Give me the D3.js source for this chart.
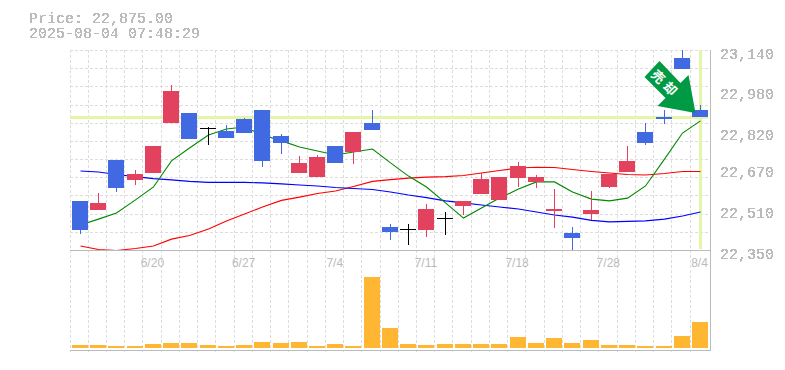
<!DOCTYPE html>
<html>
<head>
<meta charset="utf-8">
<script src="https://cdn.jsdelivr.net/npm/d3@7"></script>
<style>
  html, body { margin: 0; padding: 0; background: #fff; }
  svg { display: block; }
  text { fill: #bbb; }
  .mono { font-family: "Liberation Mono", monospace; font-size: 15px; filter: url(#crisp); }
  .date { font-family: "Liberation Sans", sans-serif; font-size: 12px; }
  .stamp { font-family: "Noto Sans CJK JP", sans-serif; font-size: 13px; font-weight: 700; fill: #fff; }
</style>
</head>
<body>
<svg id="chart" width="785" height="370"></svg>
<script>
const dates = ["6/16","6/17","6/18","6/19","6/20","6/23","6/24","6/25","6/26","6/27","6/30","7/1","7/2","7/3","7/4","7/7","7/8","7/9","7/10","7/11","7/14","7/15","7/16","7/17","7/18","7/22","7/23","7/24","7/25","7/28","7/29","7/30","7/31","8/1","8/4"];
const dateLabels = ["6/20","6/27","7/4","7/11","7/18","7/28","8/4"];
const priceLabels = [22350,22510,22670,22820,22980,23140];

const opens  = [22544,22508,22706,22627,22654,22852,22891,22832,22820,22867,22903,22800,22654,22638,22761,22737,22852,22441,22433,22429,22476,22524,22571,22548,22634,22619,22504,22417,22492,22599,22658,22816,22875,23108,22903];
const highs  = [22544,22575,22706,22666,22761,23002,22891,22836,22844,22871,22903,22808,22721,22725,22761,22816,22903,22453,22453,22532,22500,22544,22654,22638,22698,22646,22591,22441,22583,22650,22761,22852,22903,23140,22923];
const lows   = [22413,22508,22579,22607,22654,22852,22788,22765,22792,22812,22678,22729,22654,22638,22694,22690,22824,22390,22370,22401,22409,22488,22571,22548,22599,22595,22437,22350,22469,22595,22658,22765,22848,23065,22875];
const closes = [22429,22536,22595,22650,22761,22978,22788,22832,22792,22812,22702,22773,22694,22717,22694,22816,22824,22421,22433,22512,22476,22544,22630,22638,22682,22638,22512,22397,22508,22650,22702,22773,22867,23065,22875];

const maShort = [22449,22472,22496,22548,22599,22702,22753,22804,22828,22836,22804,22781,22757,22741,22725,22737,22749,22694,22642,22599,22536,22476,22516,22555,22591,22619,22619,22579,22551,22544,22555,22603,22709,22812,22860];
const maMid   = [22366,22352,22348,22356,22366,22393,22407,22433,22465,22492,22520,22546,22559,22573,22583,22601,22621,22628,22634,22638,22640,22644,22654,22664,22674,22677,22676,22668,22660,22654,22648,22646,22652,22660,22660];
const maLong  = [22662,22658,22648,22640,22632,22627,22621,22617,22617,22617,22615,22611,22607,22603,22597,22593,22589,22579,22567,22557,22544,22536,22528,22520,22512,22500,22488,22480,22467,22461,22463,22465,22472,22484,22500];

const volumes = [3,3,2,2,4,5,5,3,2,3,6,5,6,2,4,2,71,20,4,3,4,4,4,4,11,5,10,5,8,3,3,2,2,12,26];

const lastPrice = 22875;
const stamp = "2025-08-04 07:48:29";
const arrowLabel = "売却";

const UP = "#e2425e", DOWN = "#4169e1", FLAT = "#000";
const candleColor = (i) =>
  closes[i] > opens[i] ? UP : closes[i] < opens[i] ? DOWN : FLAT;

const svg = d3.select("#chart");

const x = d3.scaleBand().domain(dates).range([70.8, 709.1]).paddingInner(0.123).paddingOuter(0.0615);
const y = d3.scaleLinear().domain([22350, 23140]).range([250, 50]);
const yVol = d3.scaleLinear().domain([0, d3.max(volumes)]).range([348, 277]);

const barLeft = (d) => Math.round(x(d));
const mid = (d) => barLeft(d) + 8.5;

const defs = svg.append("defs");
defs.append("clipPath").attr("id", "plot")
  .append("rect").attr("x", 70).attr("y", 50).attr("width", 640).attr("height", 200);
// GD style text has no antialiasing, so threshold the glyph alpha
defs.append("filter").attr("id", "crisp")
  .attr("x", "-5%").attr("y", "-20%").attr("width", "110%").attr("height", "140%")
  .append("feComponentTransfer")
  .append("feFuncA").attr("type", "discrete").attr("tableValues", "0 1 1");

// grid
const grid = svg.append("g").attr("stroke", "#ddd").attr("stroke-dasharray", "3,2");
grid.selectAll("line.v").data(dates).join("line")
  .attr("class", "v")
  .attr("x1", (d, i) => Math.floor(70 + x.step() * i) + 0.5)
  .attr("x2", (d, i) => Math.floor(70 + x.step() * i) + 0.5)
  .attr("y1", 50).attr("y2", 352);
grid.selectAll("line.h").data(d3.range(0, 12)).join("line")
  .attr("class", "h")
  .attr("x1", 70).attr("x2", 708)
  .attr("y1", (k) => Math.round(y(22350 + k * (790 / 11))) + 0.5)
  .attr("y2", (k) => Math.round(y(22350 + k * (790 / 11))) + 0.5);

// current price guides
const guide = svg.append("g").attr("stroke", "#e2f5a8").attr("stroke-width", 3);
guide.append("line").attr("x1", 70).attr("x2", 708)
  .attr("y1", Math.round(y(lastPrice)) + 0.5).attr("y2", Math.round(y(lastPrice)) + 0.5);
guide.append("line").attr("x1", mid(dates[34])).attr("x2", mid(dates[34]))
  .attr("y1", 50).attr("y2", 249);

// moving averages
const line = d3.line().x((v, i) => mid(dates[i])).y((v) => y(v));
const maG = svg.append("g").attr("clip-path", "url(#plot)").attr("fill", "none");
maG.append("path").attr("d", line(maMid)).attr("stroke", "#f00").attr("stroke-width", 1.1);
maG.append("path").attr("d", line(maLong)).attr("stroke", "#00f").attr("stroke-width", 1.1);
maG.append("path").attr("d", line(maShort)).attr("stroke", "#080").attr("stroke-width", 1.1);

// candles
const candles = svg.append("g").attr("clip-path", "url(#plot)");
candles.selectAll("line").data(dates).join("line")
  .attr("x1", mid).attr("x2", mid)
  .attr("y1", (d, i) => Math.round(y(highs[i])))
  .attr("y2", (d, i) => Math.round(y(lows[i])))
  .attr("stroke", (d, i) => candleColor(i));
candles.selectAll("rect").data(dates).join("rect")
  .attr("x", barLeft)
  .attr("width", 16)
  .attr("y", (d, i) => Math.round(y(Math.max(opens[i], closes[i]))))
  .attr("height", (d, i) => Math.max(1, Math.round(Math.abs(y(opens[i]) - y(closes[i])))))
  .attr("fill", (d, i) => candleColor(i));

// volume
svg.append("g").selectAll("rect").data(dates).join("rect")
  .attr("x", barLeft)
  .attr("width", 16)
  .attr("y", (d, i) => yVol(volumes[i]))
  .attr("height", (d, i) => 348 - yVol(volumes[i]))
  .attr("fill", "#ffb733");

// frame
const frame = svg.append("g").attr("stroke", "#bbb").attr("fill", "none");
frame.append("line").attr("x1", 70).attr("x2", 711).attr("y1", 250.5).attr("y2", 250.5);
frame.append("line").attr("x1", 70).attr("x2", 711).attr("y1", 350.5).attr("y2", 350.5);
frame.append("line").attr("x1", 710.5).attr("x2", 710.5).attr("y1", 50).attr("y2", 351);

// axes
const axisY = d3.axisRight(y).tickValues(priceLabels).tickSize(0).tickPadding(0)
  .tickFormat(d3.format(","));
svg.append("g").attr("class", "mono").attr("transform", "translate(720,0)").call(axisY)
  .call((g) => g.select(".domain").remove())
  .call((g) => g.selectAll("text").attr("dy", 8).attr("x", 0).attr("font-family", null).attr("font-size", null));

const axisX = d3.axisBottom(x).tickValues(dateLabels).tickSize(0).tickPadding(0);
svg.append("g").attr("class", "date").attr("transform", "translate(-0.5,0)").call(axisX)
  .call((g) => g.select(".domain").remove())
  .call((g) => g.selectAll("text").attr("y", 267).attr("dy", 0).attr("font-family", null).attr("font-size", null));

// header
svg.append("text").attr("class", "mono").attr("x", 29).attr("y", 23)
  .text("Price: " + d3.format(",.2f")(lastPrice));
svg.append("text").attr("class", "mono").attr("x", 29).attr("y", 38).text(stamp);

// arrow pointing at the last candle
const tipX = mid(dates[34]) - 5, tipY = y(lastPrice) - 4;
const arrow = svg.append("g").attr("transform", `translate(${tipX},${tipY})`);
arrow.append("path")
  .attr("d", "M0,0L-38,-7L-30,-15L-51,-36L-36,-52L-15,-30L-7,-38Z")
  .attr("fill", "#009944");
arrow.append("text").attr("class", "stamp")
  .attr("transform", "translate(-30,-29) rotate(45)")
  .attr("text-anchor", "middle").attr("dy", "0.36em").attr("letter-spacing", 4)
  .text(arrowLabel);
</script>
</body>
</html>
